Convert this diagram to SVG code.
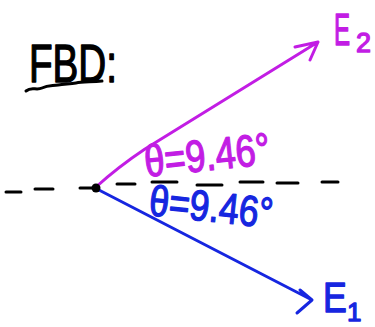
<svg xmlns="http://www.w3.org/2000/svg" width="375" height="327" viewBox="0 0 375 327">
<style>
.t{font-family:"Liberation Sans",Arial,sans-serif;stroke-linejoin:round;}
.blk{fill:#000;stroke:#000;stroke-width:1.4;}
.mag{fill:#c21de4;stroke:#c21de4;stroke-width:1.3;}
.blu{fill:#1626e0;stroke:#1626e0;stroke-width:1.3;}
.dash{stroke:#000;stroke-width:3;stroke-linecap:round;fill:none;}
.vm{stroke:#c21de4;stroke-width:3;fill:none;stroke-linecap:round;stroke-linejoin:round;}
.vb{stroke:#1626e0;stroke-width:3;fill:none;stroke-linecap:round;stroke-linejoin:round;}
</style>
<rect width="375" height="327" fill="#fff"/>
<g id="title">
<text class="t blk" x="29" y="82" font-size="54" textLength="88" lengthAdjust="spacingAndGlyphs">FBD:</text>
<path d="M26,91 C32,86 36,91 42,88 S52,86 58,85 S70,84 76,83 S90,82 102,81" stroke="#000" stroke-width="3" fill="none" stroke-linecap="round"/>
</g>
<g id="reference-line">
<line class="dash" x1="6" y1="192" x2="21" y2="192"/>
<line class="dash" x1="35" y1="189" x2="53" y2="189"/>
<line class="dash" x1="80" y1="188" x2="97" y2="188"/>
<line class="dash" x1="117" y1="184" x2="135" y2="184"/>
<line class="dash" x1="152" y1="182" x2="177" y2="182"/>
<line class="dash" x1="197" y1="185" x2="222" y2="185"/>
<line class="dash" x1="240" y1="182" x2="263" y2="182"/>
<line class="dash" x1="277" y1="183" x2="298" y2="183"/>
<line class="dash" x1="322" y1="182" x2="338" y2="182"/>
</g>
<g id="connectors">
<path class="vm" d="M96,187 Q118,167 145,149 L318,42 M295,47 L318,42 L310,60"/>
<path class="vb" d="M97,189 L312,300 M300,290 L312,300 L297,313"/>
</g>
<g id="origin">
<circle cx="96" cy="188" r="4.5" fill="#000"/>
</g>
<g id="E2">
<text class="t mag" font-size="44" transform="translate(334 45) scale(0.55 1)">E</text>
<text class="t mag" x="356" y="52" font-size="27">2</text>
</g>
<g id="E1">
<text class="t blu" font-size="42" transform="translate(323 312) scale(0.85 1)">E</text>
<text class="t blu" x="347" y="321" font-size="26">1</text>
</g>
<g id="angle-E2">
<text class="t mag" x="146" y="177" font-size="45" textLength="126" lengthAdjust="spacingAndGlyphs" transform="rotate(-6 146 177)">θ=9.46°</text>
</g>
<g id="angle-E1">
<text class="t blu" x="148" y="215" font-size="43" textLength="124" lengthAdjust="spacingAndGlyphs" transform="rotate(6 148 215)">θ=9.46°</text>
</g>
</svg>
